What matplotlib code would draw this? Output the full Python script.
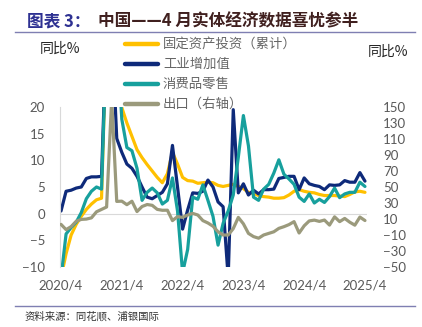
import numpy as np
import pandas as pd
import matplotlib
matplotlib.use('Agg')
import matplotlib.pyplot as plt
from matplotlib.lines import Line2D

plt.rcParams['font.family'] = ['Lato', 'Noto Sans CJK SC']
CJK = ['Noto Sans CJK SC', 'DejaVu Sans']

# monthly, 2020/4 .. 2025/4
months = pd.date_range('2020-04-01', '2025-04-01', freq='MS')

fai = [-12.0, -7.5, -4.0, -2.0, -0.5, 0.8, 1.8, 2.6, 2.9, 35.0,
       35.0, 25.6, 19.9, 17.0, 14.5, 12.0, 10.5, 9.2, 8.0, 6.8,
       5.8, 7.5, 11.5, 9.3, 6.8, 6.2, 6.1, 5.7, 5.8, 5.9,
       5.8, 5.3, 5.1, 5.3, 5.5, 5.1, 4.7, 4.0, 3.8, 3.4,
       3.2, 3.1, 2.9, 2.9, 3.0, 3.5, 4.2, 4.5, 4.2, 4.0,
       3.9, 3.6, 3.4, 3.4, 3.4, 3.3, 3.2, 3.6, 4.1, 4.2,
       4.0]

ip = [0.5, 4.2, 4.4, 4.8, 5.0, 6.6, 6.9, 6.9, 7.0, 35.1,
      35.1, 14.1, 11.5, 9.3, 8.5, 7.0, 5.0, 3.1, 2.8, 3.4,
      4.0, 5.6, 12.8, 5.0, -2.9, 0.7, 3.9, 3.8, 4.2, 6.3,
      5.0, 2.2, 1.3, -12.0, 19.5, 3.9, 5.6, 3.5, 4.4, 3.7,
      4.5, 4.5, 4.6, 6.6, 6.8, 7.0, 7.0, 4.5, 6.7, 5.6,
      5.3, 5.1, 4.5, 5.4, 5.3, 5.4, 6.2, 5.9, 5.9, 7.7,
      6.1]

retail = [-12.0, -3.8, -2.6, -1.6, 0.2, 2.8, 4.2, 5.0, 4.6, 34.0,
          34.0, 34.2, 17.7, 12.4, 11.8, 8.5, 2.5, 4.0, 4.8, 3.9,
          1.8, 2.5, 6.7, 0.5, -11.1, -6.7, 3.1, 2.7, 5.4, 2.5,
          -0.5, -5.9, -1.8, 0.5, 3.5, 10.6, 18.4, 12.7, 3.1, 2.5,
          4.6, 5.5, 7.6, 10.1, 7.4, 6.5, 5.5, 3.1, 2.3, 3.7,
          2.0, 2.7, 2.1, 3.2, 4.8, 3.0, 3.7, 4.0, 4.0, 5.9,
          5.1]

export = [3.3, -3.3, 0.5, 7.2, 9.5, 9.9, 11.4, 19.0, 22.0, 25.0,
          160.0, 32.0, 32.3, 27.9, 32.2, 19.3, 25.6, 28.1, 27.1, 22.0,
          20.9, 21.0, 8.0, 13.0, 12.0, 15.0, 17.0, 15.0, 8.0, 5.0,
          1.0, -6.0, -10.0, -10.0, -2.0, 12.0, 4.0, -8.0, -12.0, -14.0,
          -10.0, -8.0, -6.0, -1.7, 0.4, 3.0, 6.7, -7.5, 1.5, 7.6,
          8.6, 7.0, 8.7, 2.4, 12.7, 6.7, 10.7, 6.0, 2.3, 12.4,
          8.1]

names = ['固定资产投资（累计）', '工业增加值', '消费品零售', '出口（右轴）']
colors = ['#FFC000', '#0E2A7A', '#17A09D', '#9B9A7C']

W, H = 422, 327
fig = plt.figure(figsize=(W / 100, H / 100), dpi=100)
ax = fig.add_axes([60 / W, 1 - 267 / H, 307 / W, 160 / H])
ax2 = ax.twinx()

x = np.arange(len(months))
lw = 2.3
for vals, c in zip([fai, ip, retail], colors[:3]):
    ax.plot(x, vals, color=c, lw=lw, solid_joinstyle='round', solid_capstyle='round')
ax2.plot(x, export, color=colors[3], lw=lw, solid_joinstyle='round', solid_capstyle='round')

ax.set_xlim(-0.2, 60.4)
ax.set_ylim(-10, 20)
ax2.set_ylim(-50, 150)
ax.set_yticks(range(-10, 21, 5))
ax2.set_yticks(range(-50, 151, 20))
ax.set_xticks(x[::12])
ax.set_xticklabels([f'{d.year}/{d.month}' for d in months[::12]])

ax.axhline(0, color='#D9D9D9', lw=0.8, zorder=0)
for s in ['top', 'right', 'bottom']:
    ax.spines[s].set_visible(False)
ax.spines['left'].set_color('#D9D9D9')
ax.spines['left'].set_linewidth(0.8)
for s in ax2.spines.values():
    s.set_visible(False)

ax.tick_params(axis='y', length=0, pad=10.8, labelsize=9.5, labelcolor='#595959')
ax.tick_params(axis='x', length=0, pad=9, labelsize=9.5, labelcolor='#595959')
ax2.tick_params(axis='y', length=0, pad=11.5, labelsize=9.5, labelcolor='#595959')

# title
fig.text(27 / W, 1 - 21 / H, '图表 3：', family=CJK, fontsize=12, fontweight='bold',
         color='#2E3192', va='center')
fig.text(98 / W, 1 - 21 / H, '中国——4 月实体经济数据喜忧参半', family=CJK, fontsize=12,
         fontweight='bold', color='#40201F', va='center')
fig.add_artist(Line2D([15 / W, 415 / W], [1 - 32 / H] * 2, color='#7F7FB2', lw=1))
fig.add_artist(Line2D([15 / W, 415 / W], [1 - 306 / H] * 2, color='#7F7FB2', lw=1))

# axis units
fig.text(60 / W, 1 - 49 / H, '同比%', family=CJK, fontsize=10, color='#262626',
         ha='center', va='center')
fig.text(388 / W, 1 - 52 / H, '同比%', family=CJK, fontsize=10, color='#262626',
         ha='center', va='center')

# legend
for k, (name, c) in enumerate(zip(names, colors)):
    yk = 1 - (43.5 + 20 * k) / H
    fig.add_artist(Line2D([125 / W, 158 / W], [yk, yk], color=c, lw=3.2,
                          solid_capstyle='round'))
    fig.text(163 / W, yk, name, family=CJK, fontsize=9.6, color='#666666', va='center')

fig.text(25 / W, 1 - 316 / H, '资料来源：同花顺、浦银国际', family=CJK, fontsize=7.5,
         color='#333333', va='center')

fig.savefig('out.png', dpi=100)
